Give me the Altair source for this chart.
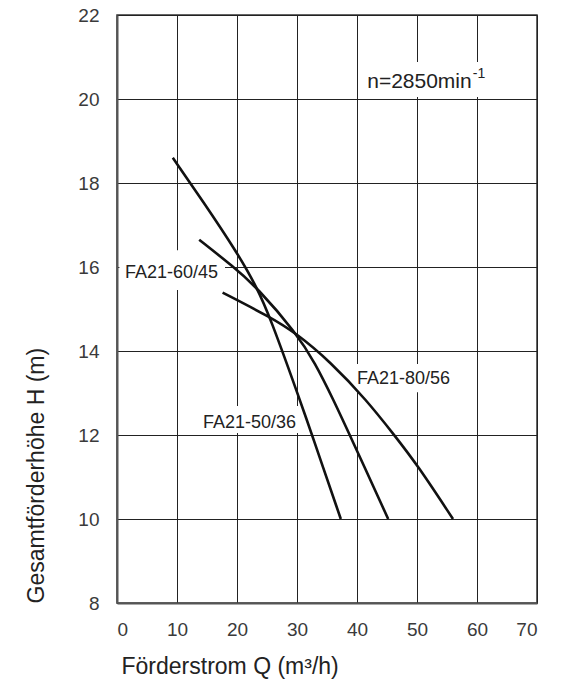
import altair as alt
import pandas as pd

# ---- data ----
pumps = ["FA21-50/36", "FA21-60/45", "FA21-80/56"]
q_50_36 = [9.3, 14.4, 20.0, 23.3, 25.5, 30.5, 32.5, 37.3]
h_50_36 = [18.6, 17.55, 16.35, 15.52, 14.81, 12.83, 12.0, 10.0]
q_60_45 = [13.7, 19.45, 23.3, 29.9, 33.0, 36.1, 38.8, 45.2]
h_60_45 = [16.65, 16.0, 15.52, 14.42, 13.72, 12.83, 12.0, 10.0]
q_80_56 = [17.6, 25.5, 29.9, 35.5, 41.6, 46.2, 50.0, 56.0]
h_80_56 = [15.39, 14.81, 14.42, 13.75, 12.83, 12.0, 11.3, 10.0]

x_ticks = [0, 10, 20, 30, 40, 50, 60, 70]
y_ticks = [8, 10, 12, 14, 16, 18, 20, 22]

# curve labels (text, left x, baseline y)
label_text = ["FA21-60/45", "FA21-80/56", "FA21-50/36"]
label_x = [1.33, 40.0, 14.33]
label_y = [15.74, 13.21, 12.17]
# white boxes behind labels (break the grid)
box_x1 = [0.4, 39.3, 13.7, 40.8]
box_x2 = [18.0, 56.3, 30.5, 62.2]
box_y1 = [15.45, 13.02, 12.05, 20.05]
box_y2 = [16.40, 13.69, 12.69, 20.88]

speed_text = "n=2850min"
speed_sup = "-1"

# ---- tables ----
rows = []
for name, qs, hs in [(pumps[0], q_50_36, h_50_36),
                     (pumps[1], q_60_45, h_60_45),
                     (pumps[2], q_80_56, h_80_56)]:
    for i, (q, h) in enumerate(zip(qs, hs)):
        rows.append({"pump": name, "Q": q, "H": h, "i": i})
curves = pd.DataFrame(rows)
labels = pd.DataFrame({"t": label_text, "x": label_x, "y": label_y})
boxes = pd.DataFrame({"x1": box_x1, "x2": box_x2, "y1": box_y1, "y2": box_y2})
speed = pd.DataFrame({"t": [speed_text], "x": [41.7], "y": [20.26]})
sup = pd.DataFrame({"t": [speed_sup], "x": [59.3], "y": [20.5]})

FONT = "Liberation Sans"

xscale = alt.Scale(domain=[0, 70], nice=False, zero=False)
yscale = alt.Scale(domain=[8, 22], nice=False, zero=False)

xaxis = alt.Axis(values=x_ticks, grid=True, ticks=False, tickSize=0,
                 labelPadding=17, labelFontSize=19, labelColor="#3a3a3a",
                 labelFont=FONT, title="Förderstrom Q (m³/h)",
                 titleFont=FONT, titleFontSize=23, titleFontWeight="normal",
                 titleColor="#222", titleX=4, titleY=70, titleAlign="left",
                 titleBaseline="alphabetic", domainColor="#555", domainWidth=2)
yaxis = alt.Axis(values=y_ticks, grid=True, ticks=False, tickSize=0,
                 labelPadding=18, labelFontSize=19, labelColor="#3a3a3a",
                 labelFont=FONT, title="Gesamtförderhöhe H (m)",
                 titleFont=FONT, titleFontSize=23, titleFontWeight="normal",
                 titleColor="#222", titleAngle=270, titleX=-74, titleY=588,
                 titleAlign="left", titleBaseline="alphabetic",
                 domainColor="#555", domainWidth=2)

base_x = alt.X("Q:Q", scale=xscale, axis=xaxis)
base_y = alt.Y("H:Q", scale=yscale, axis=yaxis)

box_layer = alt.Chart(boxes).mark_rect(fill="white", strokeWidth=0).encode(
    x=alt.X("x1:Q", scale=xscale, axis=xaxis),
    x2="x2:Q",
    y=alt.Y("y1:Q", scale=yscale, axis=yaxis),
    y2="y2:Q",
)

line_layer = alt.Chart(curves).mark_line(
    color="#111", strokeWidth=2.6, interpolate="basis"
).encode(x=base_x, y=base_y, detail="pump:N", order="i:Q")

label_layer = alt.Chart(labels).mark_text(
    align="left", baseline="alphabetic", font=FONT, fontSize=18, color="#222"
).encode(x=alt.X("x:Q", scale=xscale), y=alt.Y("y:Q", scale=yscale), text="t:N")

speed_layer = alt.Chart(speed).mark_text(
    align="left", baseline="alphabetic", font=FONT, fontSize=21, color="#222"
).encode(x=alt.X("x:Q", scale=xscale), y=alt.Y("y:Q", scale=yscale), text="t:N")

sup_layer = alt.Chart(sup).mark_text(
    align="left", baseline="alphabetic", font=FONT, fontSize=14, color="#222"
).encode(x=alt.X("x:Q", scale=xscale), y=alt.Y("y:Q", scale=yscale), text="t:N")

chart = alt.layer(
    box_layer, line_layer, label_layer, speed_layer, sup_layer
).properties(
    width=420, height=588,
    autosize=alt.AutoSizeParams(type="none"),
    padding={"left": 117, "top": 15, "right": 27, "bottom": 77},
    background="white",
).configure_view(
    stroke="#333", strokeWidth=1.5
).configure_axis(
    gridColor="#222", gridWidth=1, gridOpacity=1
)

chart.save("out.html", embed_options={"renderer": "svg", "actions": False})
